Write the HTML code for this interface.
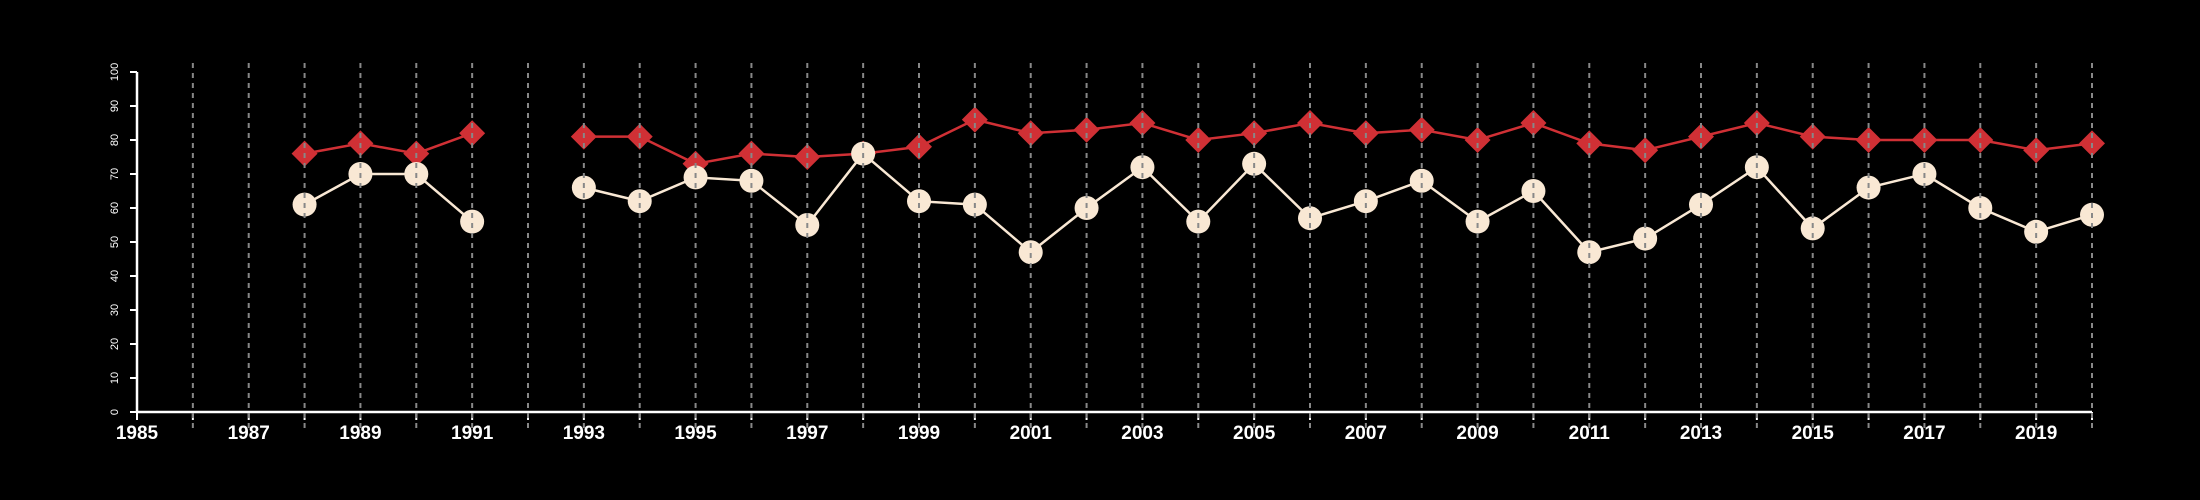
<!DOCTYPE html>
<html><head><meta charset="utf-8"><style>
html,body{margin:0;padding:0;background:#000;}
svg{display:block;font-family:"Liberation Sans",sans-serif;}
</style></head><body>
<svg width="2200" height="500" viewBox="0 0 2200 500" id="chart">
<rect width="2200" height="500" fill="#000"/>
</svg>
<script>
const years = [1988,1989,1990,1991,1992,1993,1994,1995,1996,1997,1998,1999,2000,2001,2002,2003,2004,2005,2006,2007,2008,2009,2010,2011,2012,2013,2014,2015,2016,2017,2018,2019,2020];
const redSeries = [76,79,76,82,null,81,81,73,76,75,76,78,86,82,83,85,80,82,85,82,83,80,85,79,77,81,85,81,80,80,80,77,79];
const lightSeries = [61,70,70,56,null,66,62,69,68,55,76,62,61,47,60,72,56,73,57,62,68,56,65,47,51,61,72,54,66,70,60,53,58];
const yTicks = [0,10,20,30,40,50,60,70,80,90,100];
const xLabels = [1985,1987,1989,1991,1993,1995,1997,1999,2001,2003,2005,2007,2009,2011,2013,2015,2017,2019];

const NS="http://www.w3.org/2000/svg";
const svg=document.getElementById('chart');
const X0=137,X1=2092,Y0=412,Y1=72;
const xs=y=>X0+(y-1985)*(X1-X0)/35;
const ys=v=>Y0-(v-0)*(Y0-Y1)/100;
function mk(tag,attrs,parent){const e=document.createElementNS(NS,tag);for(const k in attrs)e.setAttribute(k,attrs[k]);(parent||svg).appendChild(e);return e;}

// axes
const ax=mk('g',{});


let l=mk('line',{x1:X0,y1:Y0,x2:X0,y2:Y1,stroke:'#fff','stroke-width':2.5},ax);


l=mk('line',{x1:X0,y1:Y0,x2:X1,y2:Y0,stroke:'#fff','stroke-width':2.5},ax);


yTicks.forEach(v=>{
  const t=mk('line',{x1:X0-7,y1:ys(v),x2:X0,y2:ys(v),stroke:'#fff','stroke-width':2},ax);
  
  
  const tx=mk('text',{x:0,y:0,transform:`translate(118,${ys(v)}) rotate(-90)`,'text-anchor':'middle',fill:'#fff','font-size':11},ax);
  tx.textContent=v;
  
  
});
for(let y=1985;y<=2020;y++){
  const t=mk('line',{x1:xs(y),y1:Y0,x2:xs(y),y2:Y0+8,stroke:'#fff','stroke-width':2},ax);
  
  
}
xLabels.forEach(y=>{
  const tx=mk('text',{x:xs(y),y:439,'text-anchor':'middle',fill:'#fff','font-size':19,'font-weight':'bold'},ax);
  tx.textContent=y;
  
  
});

function series(vals,color,name,shape){
  const g=mk('g',{});
  
  
  let seg=[];
  const segs=[];
  vals.forEach((v,i)=>{if(v==null){if(seg.length)segs.push(seg);seg=[];}else seg.push(xs(years[i])+','+ys(vals[i]));});
  if(seg.length)segs.push(seg);
  segs.forEach(s=>{
    const p=mk('polyline',{points:s.join(' '),fill:'none',stroke:color,'stroke-width':2.5},g);
    
    
  });
  vals.forEach((v,i)=>{
    if(v==null)return;
    const cx=xs(years[i]),cy=ys(v);
    let m;
    if(shape==='circle') m=mk('circle',{cx,cy,r:12,fill:color},g);
    else m=mk('polygon',{points:`${cx},${cy-13} ${cx+13},${cy} ${cx},${cy+13} ${cx-13},${cy}`,fill:color},g);
    
    
  });
}
series(redSeries,'#d03035','red-series','diamond');
series(lightSeries,'#f9e8d4','light-series','circle');

// gridlines on top
const gg=mk('g',{});


for(let y=1986;y<=2020;y++){
  const t=mk('line',{x1:xs(y),y1:63,x2:xs(y),y2:428,stroke:'#888','stroke-width':2,'stroke-dasharray':'5,5'},gg);
  
  
}
</script>
</body></html>
